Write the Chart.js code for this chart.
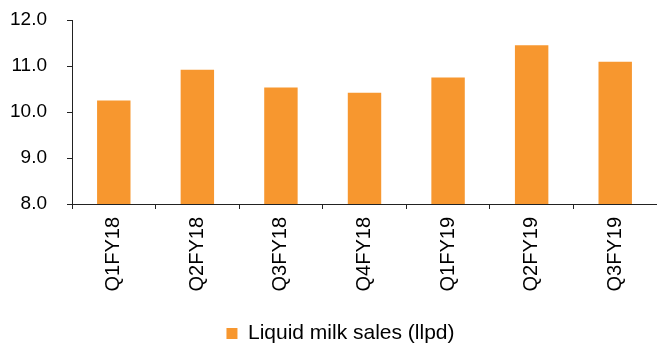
<!DOCTYPE html>
<html>
<head>
<meta charset="utf-8">
<script src="https://cdn.jsdelivr.net/npm/chart.js@4/dist/chart.umd.min.js"></script>
<style>
  html, body { margin: 0; padding: 0; background: #fff; }
  #wrap { width: 657px; height: 349px; }
</style>
</head>
<body>
<div id="wrap"><canvas id="grafico"></canvas></div>
<script>
// ======= Dados =======
const trimestres = ["Q1FY18", "Q2FY18", "Q3FY18", "Q4FY18", "Q1FY19", "Q2FY19", "Q3FY19"];
const vendasLeite = [10.25, 10.92, 10.53, 10.42, 10.75, 11.45, 11.09];
const nomeSerie = "Liquid milk sales (llpd)";
const eixoYMin = 8;
const eixoYMax = 12;

// ======= Gráfico =======
const corBarra = "#F7972F";
const corEixo = "#222222";
const familia = "'Liberation Sans', Arial, sans-serif";

// desloca a legenda um pouco para a direita e para baixo, como no original
const ajusteLegenda = {
  id: "ajusteLegenda",
  afterLayout(chart) {
    const lg = chart.legend;
    lg.left += 24;
    lg.top += 5;
    lg.bottom += 5;
  }
};

const ctx = document.getElementById("grafico").getContext("2d");
new Chart(ctx, {
  type: "bar",
  data: {
    labels: trimestres,
    datasets: [{
      label: nomeSerie,
      data: vendasLeite,
      backgroundColor: corBarra,
      borderWidth: 0,
      categoryPercentage: 0.4,
      barPercentage: 1
    }]
  },
  options: {
    responsive: true,
    maintainAspectRatio: false,
    animation: false,
    layout: { padding: { left: 0, right: 0, top: 0, bottom: 0 } },
    plugins: {
      tooltip: { enabled: false },
      legend: {
        position: "bottom",
        labels: {
          color: "#000",
          font: { family: familia, size: 21 },
          boxWidth: 11,
          boxHeight: 11,
          padding: 4
        }
      }
    },
    scales: {
      x: {
        afterFit: s => { s.height = 110; },
        grid: {
          offset: true,
          drawOnChartArea: false,
          drawTicks: true,
          tickLength: 5,
          color: corEixo
        },
        border: { color: corEixo, width: 1 },
        ticks: {
          color: "#000",
          font: { family: familia, size: 20 },
          minRotation: 90,
          maxRotation: 90,
          padding: 8
        }
      },
      y: {
        min: eixoYMin,
        max: eixoYMax,
        afterFit: s => { s.width = 72; s.paddingTop = 20; s.paddingBottom = 10; },
        grid: {
          drawOnChartArea: false,
          drawTicks: true,
          tickLength: 5,
          color: corEixo
        },
        border: { color: corEixo, width: 1 },
        ticks: {
          stepSize: 1,
          color: "#000",
          font: { family: familia, size: 19 },
          padding: 20,
          callback: v => v.toFixed(1)
        }
      }
    }
  },
  plugins: [ajusteLegenda]
});
</script>
</body>
</html>
